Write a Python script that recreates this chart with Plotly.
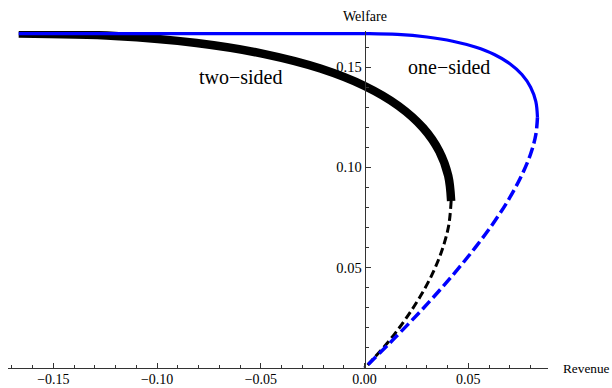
import plotly.graph_objects as go

# ---- data ----
# two-sided, solid (thick black)
two_solid_rev = [-0.1667, -0.1203, -0.0810, -0.0482, -0.0213, 0.0000, 0.0163, 0.0282, 0.0360, 0.0403, 0.0417]
two_solid_wel = [0.1667, 0.1655, 0.1620, 0.1565, 0.1493, 0.1406, 0.1307, 0.1197, 0.1080, 0.0958, 0.0833]
# two-sided, dashed (black)
two_dash_rev = [0.0417, 0.0405, 0.0373, 0.0327, 0.0270, 0.0208, 0.0147, 0.0090, 0.0043, 0.0012, 0.0]
two_dash_wel = [0.0833, 0.0709, 0.0587, 0.0470, 0.0360, 0.0260, 0.0173, 0.0101, 0.0047, 0.0012, 0.0]
# one-sided, solid (blue)
one_solid_rev = [-0.1667, -0.1000, -0.0500, 0.0000, 0.0158, 0.0300, 0.0425, 0.0533, 0.0625, 0.0700, 0.0758, 0.0800, 0.0825, 0.0833]
one_solid_wel = [0.1667, 0.1667, 0.1667, 0.1667, 0.1663, 0.1650, 0.1629, 0.1600, 0.1563, 0.1517, 0.1463, 0.1400, 0.1329, 0.1250]
# one-sided, dashed (blue)
one_dash_rev = [0.0833, 0.0825, 0.0800, 0.0758, 0.0700, 0.0625, 0.0533, 0.0425, 0.0300, 0.0158, 0.0]
one_dash_wel = [0.1250, 0.1163, 0.1067, 0.0963, 0.0850, 0.0729, 0.0600, 0.0463, 0.0317, 0.0163, 0.0]

x_tickvals = [-0.15, -0.10, -0.05, 0.00, 0.05]
x_ticktext = ["\u22120.15", "\u22120.10", "\u22120.05", "0.00", "0.05"]
y_tickvals = [0.05, 0.10, 0.15]
y_ticktext = ["0.05", "0.10", "0.15"]

X_RANGE = [-0.17186, 0.08838]
Y_RANGE = [0.0, 0.168]

FONT = "Liberation Serif, Times New Roman, serif"
AX = "#333333"

fig = go.Figure()
fig.add_trace(go.Scatter(x=two_solid_rev, y=two_solid_wel, mode="lines", hoverinfo="skip",
                         line=dict(color="black", width=8.5, shape="spline", smoothing=1.0)))
fig.add_trace(go.Scatter(x=two_dash_rev, y=two_dash_wel, mode="lines", hoverinfo="skip",
                         line=dict(color="black", width=3, dash="8px,4px", shape="spline", smoothing=1.0)))
fig.add_trace(go.Scatter(x=one_solid_rev, y=one_solid_wel, mode="lines", hoverinfo="skip",
                         line=dict(color="#0000ff", width=3.2, shape="spline", smoothing=1.0)))
fig.add_trace(go.Scatter(x=one_dash_rev, y=one_dash_wel, mode="lines", hoverinfo="skip",
                         line=dict(color="#0000ff", width=3.5, dash="11px,4.5px", shape="spline", smoothing=1.0)))

yaxis_pos = (0 - X_RANGE[0]) / (X_RANGE[1] - X_RANGE[0])

fig.update_layout(
    width=612, height=388,
    margin=dict(l=8, r=64, t=31, b=20, pad=0),
    paper_bgcolor="white", plot_bgcolor="white",
    showlegend=False,
    font=dict(family=FONT, size=14, color="black"),
    xaxis=dict(range=X_RANGE, domain=[0, 1], showgrid=False, zeroline=False, automargin=False,
               showline=True, linecolor=AX, linewidth=1,
               tickmode="array", tickvals=x_tickvals, ticktext=x_ticktext,
               ticks="inside", ticklen=5, tickwidth=1, tickcolor=AX, ticklabelstandoff=-2,
               tickfont=dict(family=FONT, size=14, color="black"),
               minor=dict(dtick=0.01, tick0=0, ticks="inside", ticklen=3, tickwidth=1, tickcolor=AX, showgrid=False)),
    yaxis=dict(range=Y_RANGE, domain=[0, 1], anchor="free", position=yaxis_pos, automargin=False,
               showgrid=False, zeroline=False,
               showline=True, linecolor=AX, linewidth=1,
               tickmode="array", tickvals=y_tickvals, ticktext=y_ticktext,
               ticks="inside", ticklen=5, tickwidth=1, tickcolor=AX,
               tickfont=dict(family=FONT, size=14.5, color="black"),
               minor=dict(dtick=0.01, tick0=0, ticks="inside", ticklen=3, tickwidth=1, tickcolor=AX, showgrid=False)),
    annotations=[
        dict(text="Welfare", xref="x", x=0, yref="paper", y=1.043, xanchor="center", yanchor="middle",
             showarrow=False, font=dict(family=FONT, size=14, color="black")),
        dict(text="Revenue", xref="paper", x=1.024, yref="paper", y=0, xanchor="left", yanchor="middle",
             showarrow=False, font=dict(family=FONT, size=13.3, color="black")),
        dict(text="two\u2212sided", xref="x", x=-0.0596, yref="y", y=0.1451, xanchor="center", yanchor="middle",
             showarrow=False, font=dict(family=FONT, size=20, color="black")),
        dict(text="one\u2212sided", xref="x", x=0.0407, yref="y", y=0.1500, xanchor="center", yanchor="middle",
             showarrow=False, font=dict(family=FONT, size=20, color="black")),
    ],
)

fig.write_html("out.html", config={"displayModeBar": False},
               post_script="document.body.style.margin='0';document.body.style.overflow='hidden';")
